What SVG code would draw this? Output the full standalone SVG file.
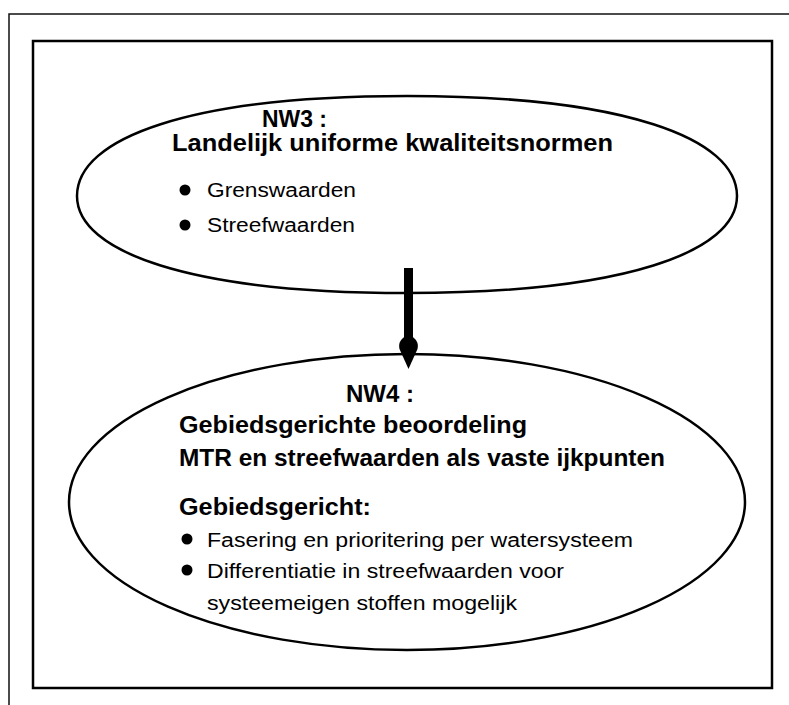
<svg xmlns="http://www.w3.org/2000/svg" width="789" height="705" viewBox="0 0 789 705">
<style>
.frame{fill:none;stroke:#111;stroke-width:1.5}
.box{fill:none;stroke:#000;stroke-width:2.5}
.ell{fill:#fff;stroke:#000;stroke-width:2.5}
.b{font-family:"Liberation Sans",Arial,sans-serif;font-weight:bold;font-size:24px;fill:#000}
.r{font-family:"Liberation Sans",Arial,sans-serif;font-size:20px;fill:#000}
.dot{fill:#000}
</style>
<rect width="789" height="705" fill="#fff"/>
<path class="frame" d="M789 14 L9 14 L9 705"/>
<rect class="box" x="33" y="41" width="739" height="647"/>
<g id="nw3">
<path class="ell" d="M77 196 C77 138 190 96 407 96 C624 96 737 138 737 196 C737 252 624 293 407 293 C190 293 77 252 77 196 Z"/>
<text class="b" x="262" y="127" font-size="22" textLength="65" lengthAdjust="spacingAndGlyphs">NW3 :</text>
<text class="b" x="172" y="151" textLength="441" lengthAdjust="spacingAndGlyphs">Landelijk uniforme kwaliteitsnormen</text>
<circle class="dot" cx="185" cy="190" r="5.5"/>
<text class="r" x="207" y="197" textLength="149" lengthAdjust="spacingAndGlyphs">Grenswaarden</text>
<circle class="dot" cx="185" cy="225" r="5.5"/>
<text class="r" x="207" y="232" textLength="148" lengthAdjust="spacingAndGlyphs">Streefwaarden</text>
</g>
<g id="nw4">
<ellipse class="ell" cx="407" cy="502" rx="338" ry="148"/>
<text class="b" x="346" y="402" textLength="68" lengthAdjust="spacingAndGlyphs">NW4 :</text>
<text class="b" x="179" y="433" textLength="348" lengthAdjust="spacingAndGlyphs">Gebiedsgerichte beoordeling</text>
<text class="b" x="179" y="466" textLength="486" lengthAdjust="spacingAndGlyphs">MTR en streefwaarden als vaste ijkpunten</text>
<text class="b" x="179" y="515" textLength="192" lengthAdjust="spacingAndGlyphs">Gebiedsgericht:</text>
<circle class="dot" cx="187" cy="539" r="5.5"/>
<text class="r" x="207" y="547" textLength="426" lengthAdjust="spacingAndGlyphs">Fasering en prioritering per watersysteem</text>
<circle class="dot" cx="187" cy="570" r="5.5"/>
<text class="r" x="207" y="578" textLength="357" lengthAdjust="spacingAndGlyphs">Differentiatie in streefwaarden voor</text>
<text class="r" x="207" y="610" textLength="310" lengthAdjust="spacingAndGlyphs">systeemeigen stoffen mogelijk</text>
</g>
<g id="connectors">
<rect x="404" y="268" width="9" height="72" fill="#000"/>
<path d="M408.5 336 C401 337 398 343 399.5 349 L408.5 369 L417.5 349 C419 343 416 337 408.5 336 Z" fill="#000"/>
</g>
</svg>
